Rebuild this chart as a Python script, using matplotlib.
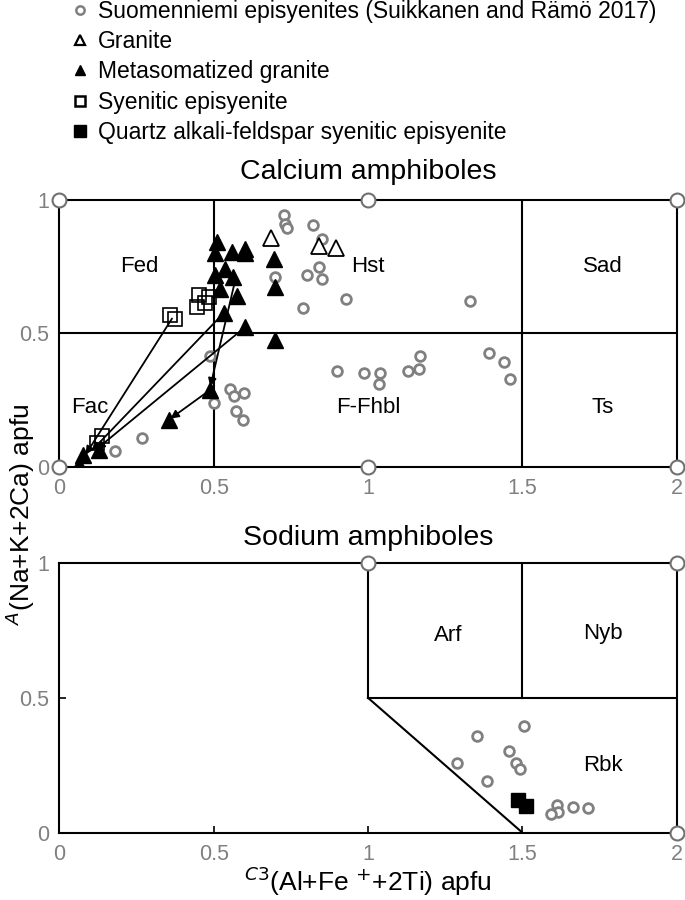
import matplotlib
matplotlib.use("Agg")
import matplotlib.pyplot as plt
from matplotlib.lines import Line2D

plt.rcParams['font.family'] = ['Liberation Sans', 'DejaVu Sans']

# ---- data ----
# Calcium amphiboles: Suomenniemi episyenites (grey circles)
ca_suom_x = [0.727, 0.730, 0.736, 0.823, 0.852, 0.841, 0.803, 0.852, 0.697, 0.928, 0.790,
             0.489, 0.898, 0.987, 1.038, 1.034, 1.131, 1.166, 1.168, 1.331, 1.393, 1.440, 1.459,
             0.554, 0.565, 0.597, 0.500, 0.571, 0.596, 0.267, 0.181]
ca_suom_y = [0.942, 0.910, 0.895, 0.905, 0.852, 0.750, 0.717, 0.704, 0.710, 0.627, 0.595,
             0.416, 0.360, 0.351, 0.351, 0.310, 0.357, 0.367, 0.416, 0.620, 0.426, 0.392, 0.329,
             0.291, 0.266, 0.276, 0.238, 0.207, 0.176, 0.107, 0.059]

granite_x = [0.686, 0.841, 0.896]
granite_y = [0.855, 0.827, 0.821]

meta_x = [0.511, 0.503, 0.560, 0.603, 0.603, 0.695, 0.536, 0.505, 0.563, 0.522, 0.700,
          0.574, 0.532, 0.603, 0.697, 0.489, 0.354, 0.127, 0.078, 0.065]
meta_y = [0.840, 0.800, 0.805, 0.815, 0.800, 0.777, 0.742, 0.720, 0.710, 0.664, 0.673,
          0.639, 0.577, 0.524, 0.476, 0.288, 0.176, 0.063, 0.044, 0.006]

syen_x = [0.357, 0.375, 0.446, 0.451, 0.484, 0.473, 0.138, 0.121]
syen_y = [0.567, 0.554, 0.600, 0.642, 0.636, 0.614, 0.113, 0.088]

# arrows: (start x, start y, end x, end y)
arrows = [(0.365, 0.555, 0.085, 0.045),
          (0.532, 0.575, 0.105, 0.060),
          (0.603, 0.524, 0.120, 0.065),
          (0.570, 0.700, 0.489, 0.300),
          (0.489, 0.288, 0.360, 0.180)]

# Sodium amphiboles
na_suom_x = [1.506, 1.353, 1.458, 1.480, 1.492, 1.287, 1.385, 1.613, 1.615, 1.591, 1.664, 1.712]
na_suom_y = [0.396, 0.359, 0.303, 0.257, 0.236, 0.257, 0.193, 0.103, 0.078, 0.069, 0.096, 0.090]
qafs_x = [1.485, 1.512]
qafs_y = [0.121, 0.099]

ca_fields = [("Fed", 0.26, 0.75), ("Hst", 1.0, 0.75), ("Sad", 1.76, 0.75),
             ("Fac", 0.10, 0.22), ("F-Fhbl", 1.0, 0.22), ("Ts", 1.76, 0.22)]
na_fields = [("Arf", 1.26, 0.73), ("Nyb", 1.76, 0.74), ("Rbk", 1.76, 0.25)]

ca_nodes_x = [0, 1, 2, 0, 1, 2]
ca_nodes_y = [1, 1, 1, 0, 0, 0]
na_nodes_x = [1, 2, 2]
na_nodes_y = [1, 1, 0]

ticks_x = [0, 0.5, 1, 1.5, 2]
ticklabels_x = ['0', '0.5', '1', '1.5', '2']
ticks_y = [0, 0.5, 1]
ticklabels_y = ['0', '0.5', '1']

grey = '#808080'
circ = dict(marker='o', ls='none', ms=7, mfc='white', mec=grey, mew=2)
node = dict(marker='o', ls='none', ms=10, mfc='white', mec='#707070', mew=1.5, clip_on=False, zorder=6)

fig = plt.figure(figsize=(6.85, 9), dpi=100)
ax1 = fig.add_axes([0.0866, 0.4815, 0.9014, 0.2965])
ax2 = fig.add_axes([0.0866, 0.0748, 0.9014, 0.2996])


def frame(ax):
    ax.set_xlim(0, 2)
    ax.set_ylim(0, 1)
    for s in ax.spines.values():
        s.set_linewidth(1.5)
        s.set_color('black')
    ax.set_xticks(ticks_x)
    ax.set_xticklabels(ticklabels_x)
    ax.set_yticks(ticks_y)
    ax.set_yticklabels(ticklabels_y)
    ax.tick_params(direction='in', length=5, width=1.2, colors='black',
                   labelcolor=grey, labelsize=15.5, pad=7)
    ax.tick_params(axis='x', pad=8)


# top panel
frame(ax1)
ax1.axvline(0.5, color='black', lw=1.5)
ax1.axvline(1.5, color='black', lw=1.5)
ax1.axhline(0.5, color='black', lw=1.5)
for x0, y0, x1, y1 in arrows:
    ax1.annotate('', xy=(x1, y1), xytext=(x0, y0),
                 arrowprops=dict(arrowstyle='-|>', color='black', lw=1.3,
                                 mutation_scale=12, shrinkA=0, shrinkB=0))
ax1.plot(ca_suom_x, ca_suom_y, **circ)
ax1.plot(syen_x, syen_y, marker='s', ls='none', ms=10, mfc='none', mec='black', mew=1.2)
ax1.plot(granite_x, granite_y, marker='^', ls='none', ms=11, mfc='white', mec='black', mew=1.3)
ax1.plot(meta_x, meta_y, marker='^', ls='none', ms=11, mfc='black', mec='black')
ax1.plot(ca_nodes_x, ca_nodes_y, **node)
for name, x, y in ca_fields:
    ax1.text(x, y, name, ha='center', va='center', fontsize=16)
ax1.set_title('Calcium amphiboles', fontsize=20.5, pad=15)

# bottom panel
frame(ax2)
ax2.plot([1, 1], [0.5, 1], color='black', lw=1.5)
ax2.plot([1.5, 1.5], [0.5, 1], color='black', lw=1.5)
ax2.plot([1, 2], [0.5, 0.5], color='black', lw=1.5)
ax2.plot([1, 1.5], [0.5, 0], color='black', lw=1.5)
ax2.plot(na_suom_x, na_suom_y, **circ)
ax2.plot(qafs_x, qafs_y, marker='s', ls='none', ms=10, mfc='black', mec='black')
ax2.plot(na_nodes_x, na_nodes_y, **node)
for name, x, y in na_fields:
    ax2.text(x, y, name, ha='center', va='center', fontsize=16)
ax2.set_title('Sodium amphiboles', fontsize=20.5, pad=13)
ax2.set_xlabel('$^{C3}$(Al+Fe $^{+}$+2Ti) apfu', fontsize=19, labelpad=0)

fig.text(0.03, 0.428, '$^{A}$(Na+K+2Ca) apfu', rotation=90, ha='center', va='center', fontsize=19)

# legend
handles = [Line2D([], [], marker='o', ls='none', ms=6, mfc='white', mec=grey, mew=1.8),
           Line2D([], [], marker='^', ls='none', ms=7, mfc='white', mec='black', mew=1.6),
           Line2D([], [], marker='^', ls='none', ms=7, mfc='black', mec='black'),
           Line2D([], [], marker='s', ls='none', ms=7, mfc='white', mec='black', mew=1.8),
           Line2D([], [], marker='s', ls='none', ms=8, mfc='black', mec='black')]
labels = ['Suomenniemi episyenites (Suikkanen and Rämö 2017)', 'Granite', 'Metasomatized granite',
          'Syenitic episyenite', 'Quartz alkali-feldspar syenitic episyenite']
fig.legend(handles, labels, loc='upper left', bbox_to_anchor=(0.09, 1.013), frameon=False,
           fontsize=16.5, handlelength=0.6, handletextpad=0.5, labelspacing=0.32, borderpad=0)

fig.savefig('out.png', dpi=100)
